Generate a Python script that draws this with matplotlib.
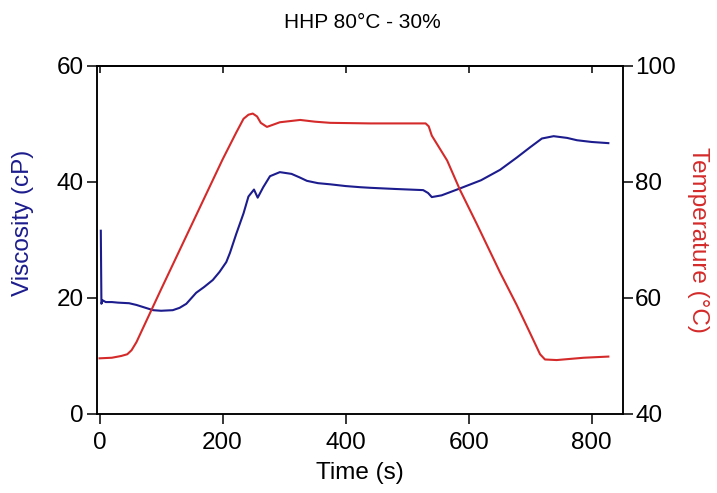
import matplotlib
matplotlib.use("Agg")
import matplotlib.pyplot as plt

# ---- data ----
time_visc = [2, 3, 5, 10, 20, 30, 48, 60, 75, 87, 100, 119, 130, 141, 157, 170, 184,
             195, 206, 212, 222, 234, 242, 251, 257, 266, 277, 293, 312, 325, 337,
             355, 375, 400, 424, 440, 480, 526, 534, 540, 556, 586, 620, 651, 678,
             700, 719, 738, 760, 776, 800, 827]
viscosity = [31.6, 19.0, 19.6, 19.3, 19.3, 19.2, 19.1, 18.8, 18.3, 17.9, 17.8, 17.9,
             18.3, 19.0, 20.9, 21.9, 23.1, 24.5, 26.2, 27.8, 31.0, 34.6, 37.5, 38.7,
             37.3, 39.1, 41.0, 41.7, 41.4, 40.8, 40.2, 39.8, 39.6, 39.3, 39.1, 39.0,
             38.8, 38.6, 38.1, 37.4, 37.7, 38.9, 40.3, 42.1, 44.2, 46.0, 47.5, 47.9,
             47.6, 47.2, 46.9, 46.7]

time_temp = [0, 20, 35, 45, 52, 60, 67, 100, 150, 200, 222, 234, 242, 249, 256, 262,
             272, 280, 293, 326, 350, 375, 440, 530, 535, 540, 565, 586, 613, 651,
             678, 700, 716, 724, 743, 787, 827]
temperature = [49.6, 49.7, 50.0, 50.3, 51.0, 52.4, 54.0, 61.5, 72.7, 83.9, 88.5, 90.9,
               91.6, 91.8, 91.3, 90.2, 89.5, 89.8, 90.3, 90.7, 90.4, 90.2, 90.1, 90.1,
               89.6, 88.0, 83.7, 78.6, 72.8, 64.4, 58.8, 53.9, 50.3, 49.4, 49.3, 49.7,
               49.9]

x_ticks = [0, 200, 400, 600, 800]
visc_ticks = [0, 20, 40, 60]
temp_ticks = [40, 60, 80, 100]

title = "HHP 80°C - 30%"
x_label = "Time (s)"
visc_label = "Viscosity (cP)"
temp_label = "Temperature (°C)"

# ---- style ----
plt.rcParams['font.family'] = ['Liberation Sans', 'DejaVu Sans']
BLUE = '#1c1c8e'
RED = '#d42a2a'
FS = 17.5

fig = plt.figure(figsize=(7.17, 4.93), dpi=100)
ax = fig.add_axes([96.5 / 717, 1 - 414 / 493, (622.5 - 96.5) / 717, (414 - 66) / 493])
ax2 = ax.twinx()

ax.plot(time_visc, viscosity, color=BLUE, lw=1.5)
ax2.plot(time_temp, temperature, color=RED, lw=1.5)

ax.set_xlim(-5, 850)
ax.set_ylim(0, 60)
ax2.set_ylim(40, 100)
ax.set_xticks(x_ticks)
ax.set_yticks(visc_ticks)
ax2.set_yticks(temp_ticks)

for a in (ax, ax2):
    for s in a.spines.values():
        s.set_linewidth(1.1)
        s.set_color('black')

ax.tick_params(axis='x', direction='out', length=7, width=1.1,
               labelsize=FS, colors='black', pad=6)
ax.tick_params(axis='y', direction='out', length=7, width=1.1,
               labelsize=FS, colors='black', pad=2)
ax2.tick_params(axis='y', direction='out', length=7, width=1.1,
                labelsize=FS, colors='black', pad=2)

top = ax.secondary_xaxis('top')
top.set_xticks(x_ticks)
top.tick_params(direction='in', length=5, width=1.1, labeltop=False)
top.spines['top'].set_linewidth(1.1)

ax.set_xlabel(x_label, fontsize=FS, labelpad=6)
ax.set_ylabel(visc_label, fontsize=FS, color=BLUE)
ax.yaxis.set_label_coords(-0.118, 0.55)
ax2.set_ylabel(temp_label, fontsize=FS, color=RED, rotation=270, labelpad=24)

fig.text(0.505, 1 - 22 / 493, title, ha='center', va='center', fontsize=15)

fig.savefig('out.png', dpi=100)
